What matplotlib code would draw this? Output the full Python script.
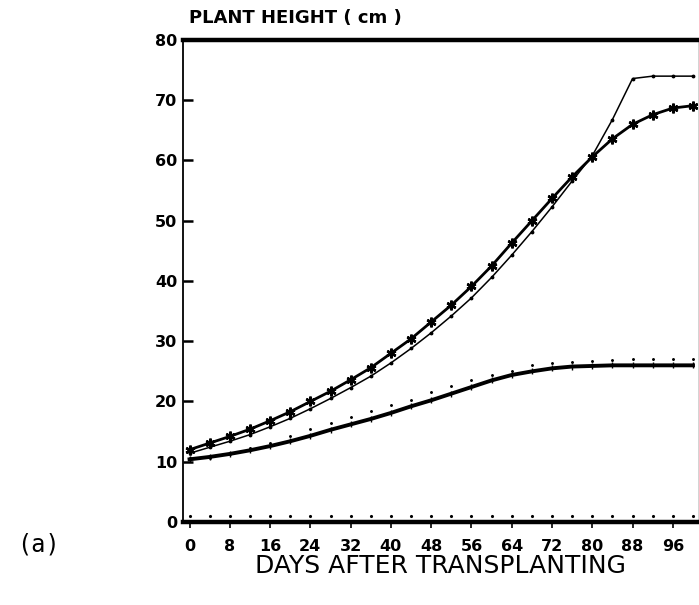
import numpy as np
import matplotlib
matplotlib.use('Agg')
import matplotlib.pyplot as plt
from matplotlib.ticker import MultipleLocator

# days after transplanting (every 4 days)
days = np.arange(0, 101, 4)

# asterisk series
height_star = [12.0, 13.1, 14.2, 15.4, 16.8, 18.3, 20.0, 21.7, 23.6, 25.6,
               28.0, 30.4, 33.2, 36.0, 39.1, 42.5, 46.3, 50.0, 53.7, 57.3,
               60.6, 63.6, 66.0, 67.6, 68.7, 69.1]
# thin line with dots
height_thin = [11.4, 12.4, 13.4, 14.5, 15.8, 17.2, 18.8, 20.5, 22.3, 24.2,
               26.4, 28.8, 31.4, 34.2, 37.2, 40.6, 44.3, 48.2, 52.3, 56.6,
               60.8, 66.8, 73.6, 74.0, 74.0, 74.0]
# lower thick line
height_low = [10.4, 10.8, 11.3, 11.9, 12.6, 13.4, 14.3, 15.3, 16.2, 17.1,
              18.1, 19.2, 20.2, 21.3, 22.4, 23.5, 24.4, 25.0, 25.5, 25.8,
              25.9, 26.0, 26.0, 26.0, 26.0, 26.0]
# dots around the lower line
height_low_obs = [10.6, 10.7, 11.3, 12.2, 13.1, 14.3, 15.5, 16.5, 17.5, 18.4,
                  19.5, 20.3, 21.6, 22.5, 23.6, 24.4, 25.1, 26.0, 26.4, 26.6,
                  26.8, 26.9, 27.0, 27.0, 27.0, 27.0]
# dots just above the baseline
height_base = [1.0] * len(days)

x_ticks = [0, 8, 16, 24, 32, 40, 48, 56, 64, 72, 80, 88, 96]
y_ticks = [0, 10, 20, 30, 40, 50, 60, 70, 80]

fig = plt.figure(figsize=(6.99, 6.05), dpi=100)
ax = fig.add_axes([0.2618, 0.1372, 0.7368, 0.7967])

ax.plot(days, height_star, color='black', lw=2.0, marker=(6, 2, 0),
        ms=7, mew=1.8)
ax.plot(days, height_thin, color='black', lw=1.1, marker='.', ms=3.5)
ax.plot(days, height_low, color='black', lw=2.8, marker='|', ms=5, mew=1.0)
ax.plot(days, height_low_obs, color='black', lw=0, marker='.', ms=2.2)
ax.plot(days, height_base, color='black', lw=0, marker='.', ms=2.5,
        clip_on=False)

ax.set_xlim(-1.3, 101)
ax.set_ylim(0, 80)
ax.set_xticks(x_ticks)
ax.set_yticks(y_ticks)
ax.xaxis.set_minor_locator(MultipleLocator(4))

for s in ['top', 'bottom']:
    ax.spines[s].set_linewidth(3.2)
ax.spines['left'].set_linewidth(1.3)
ax.spines['right'].set_linewidth(0.6)
ax.spines['right'].set_color('#cccccc')

ax.tick_params(axis='y', direction='in', length=7, width=1.8, pad=4,
               labelsize=11.5)
ax.tick_params(axis='x', which='major', direction='out', length=4,
               width=1.2, pad=8, labelsize=11.5)
ax.tick_params(axis='x', which='minor', length=0)
for lab in ax.get_xticklabels() + ax.get_yticklabels():
    lab.set_fontweight('bold')

ax.set_xlabel('DAYS AFTER TRANSPLANTING', fontsize=18, labelpad=0)
fig.text(0.270, 0.970, 'PLANT HEIGHT ( cm )', fontsize=13,
         fontweight='bold', ha='left', va='center')
fig.text(0.025, 0.100, '(a)', fontsize=17, family='DejaVu Sans Mono',
         ha='left', va='center')

fig.savefig('out.png', dpi=100)
